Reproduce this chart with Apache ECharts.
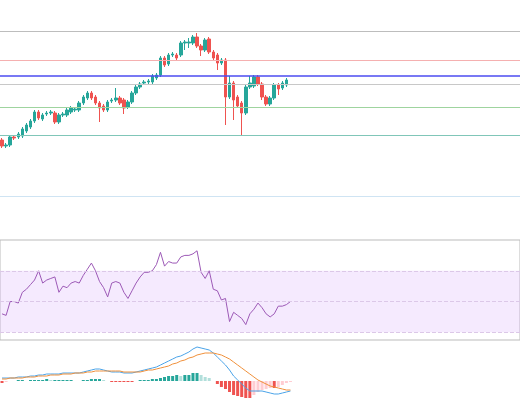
<!DOCTYPE html><html><head><meta charset="utf-8"><script src="https://cdn.jsdelivr.net/npm/echarts@6/dist/echarts.min.js"></script>
<style>html,body{margin:0;padding:0;background:#fff}#c{width:520px;height:400px}</style></head><body><div id="c"></div><script>
var TOTAL=128;
var opens=[160,154,155,163,163,164,169,173,179,188,181,186,187,187,178,185,185,188,190,190,197,202,207,203,197,194,190,199,200,202,200,193,198,207,213,217,218,218,222,225,242,236,245,245,245,257,257,257,263,254,250,261,248,245,237,240,203,217,203,197,187,213,214,223,216,203,196,202,215,212,215];
var closes=[154,155,163,162,166,171,175,179,188,182,185,187,188,178,185,186,190,192,191,197,203,207,202,197,192,190,198,200,202,197,192,198,207,213,216,218,219,224,225,242,235,245,246,242,257,258,258,263,254,250,260,248,242,237,240,203,217,200,194,187,213,217,223,216,203,196,202,215,211,217,220];
var lows=[152,152,153,160,161,162,167,171,177,180,179,184,185,176,176,183,183,186,188,188,195,200,200,195,178,188,188,197,198,195,186,191,196,205,211,215,216,216,220,223,233,234,243,240,243,250,252,255,252,244,248,246,240,230,235,175,201,180,192,165,185,211,212,214,200,194,194,200,205,210,213];
var highs=[162,157,165,164,168,173,177,181,190,190,187,189,190,189,187,188,192,194,193,199,205,209,209,205,199,196,200,202,212,204,202,200,209,215,218,220,221,226,227,244,244,247,248,247,259,260,262,265,267,256,262,263,250,247,242,242,224,219,205,199,215,224,225,225,218,205,204,217,217,219,222];
var rsi=[42,41,50,50,49,56,58,61,64,70,62,64,65,66,56,60,59,62,63,62,67,71,75,70,63,59,53,62,63,62,56,52,57,62,66,69,69,70,74,82,73,76,75,75,79,80,80,81,83,69,65,70,58,57,51,52,37,43,41,39,35,42,45,49,46,42,40,42,47,47,48,50];
var dif=[3,3,3,3,4,4,4,5,5,6,6,7,7,7,7,8,8,8,8,8,9,10,11,12,12,11,10,9,9,9,8,8,8,9,10,11,12,13,14,16,18,20,22,24,25,27,29,32,34,33,32,31,28,24,20,16,11,5,1,-3,-7,-10,-10,-10,-10,-11,-12,-13,-13,-12,-11,-10];
var dea=[2,2,3,3,3,3,4,4,4,5,5,5,6,6,6,7,7,7,8,8,8,9,9,10,10,10,10,10,10,10,9,9,9,9,9,10,11,11,12,13,14,15,17,18,20,21,23,24,26,27,28,28,28,27,26,24,22,19,16,13,10,7,4,1,-1,-3,-5,-6,-7,-8,-9,-9];
var hist=[-2,-1,0,0,1,1,0,1,1,1,1,2,1,1,1,1,1,1,0,0,1,1,2,2,2,1,0,-1,-1,-1,-1,-1,-1,0,1,1,1,2,2,3,4,5,5,6,5,6,6,8,8,6,4,3,0,-3,-6,-8,-11,-14,-15,-16,-17,-17,-14,-11,-9,-8,-7,-7,-6,-4,-2,-1];
var levels=[269,240,224,216,193,165,104];
var levelColors=['#bdbdbd','#f5b0b0','#4b4bf0','#c8c8c8','#9fd49f','#80c6b8','#cfe4f3'];
var cats=[];for(var i=0;i<TOTAL;i++)cats.push(i);
var kdata=opens.map(function(o,i){return [o,closes[i],lows[i],highs[i]];});
var histData=hist.map(function(v,i){var p=i>0?hist[i-1]:0;var c;
 if(v>=0)c=v>=p?'#26a69a':'#b2dfdb';else c=v<=p?'#ef5350':'#ffcdd2';return {value:v,itemStyle:{color:c}};});
var chart=echarts.init(document.getElementById('c'));
var xa=function(g){return {type:'category',gridIndex:g,data:cats,show:false,boundaryGap:true};};
chart.setOption({animation:false,
grid:[{left:0,right:0,top:0,height:240},{left:-1,right:-1,top:240,height:100,show:true,borderColor:'#bbb',borderWidth:1,backgroundColor:'transparent'},{left:0,right:0,top:340,height:60}],
xAxis:[xa(0),xa(1),xa(2)],
yAxis:[{gridIndex:0,min:60,max:300,show:false},{gridIndex:1,min:25,max:90,show:false},{gridIndex:2,min:-19,max:41,show:false}],
series:[
{type:'candlestick',xAxisIndex:0,yAxisIndex:0,data:kdata,barWidth:3,
 itemStyle:{color:'#26a69a',color0:'#ef5350',borderColor:'#26a69a',borderColor0:'#ef5350',borderWidth:1},
 markLine:{silent:true,symbol:'none',label:{show:false},data:levels.map(function(l,i){return {yAxis:l,lineStyle:{color:levelColors[i],type:'solid',width:i==2?1.5:1}};})}},
{type:'line',xAxisIndex:1,yAxisIndex:1,data:rsi,showSymbol:false,lineStyle:{color:'#9c59b6',width:1},
 markArea:{silent:true,itemStyle:{color:'rgba(215,170,250,0.25)'},data:[[{yAxis:30},{yAxis:70}]]},
 markLine:{silent:true,symbol:'none',label:{show:false},lineStyle:{color:'#dcc8e8',type:'dashed',width:1},data:[{yAxis:30},{yAxis:50},{yAxis:70}]}},
{type:'bar',xAxisIndex:2,yAxisIndex:2,data:histData,barWidth:3},
{type:'line',xAxisIndex:2,yAxisIndex:2,data:dif,showSymbol:false,lineStyle:{color:'#4aa3e8',width:1}},
{type:'line',xAxisIndex:2,yAxisIndex:2,data:dea,showSymbol:false,lineStyle:{color:'#f0903a',width:1}}
]});
</script></body></html>
